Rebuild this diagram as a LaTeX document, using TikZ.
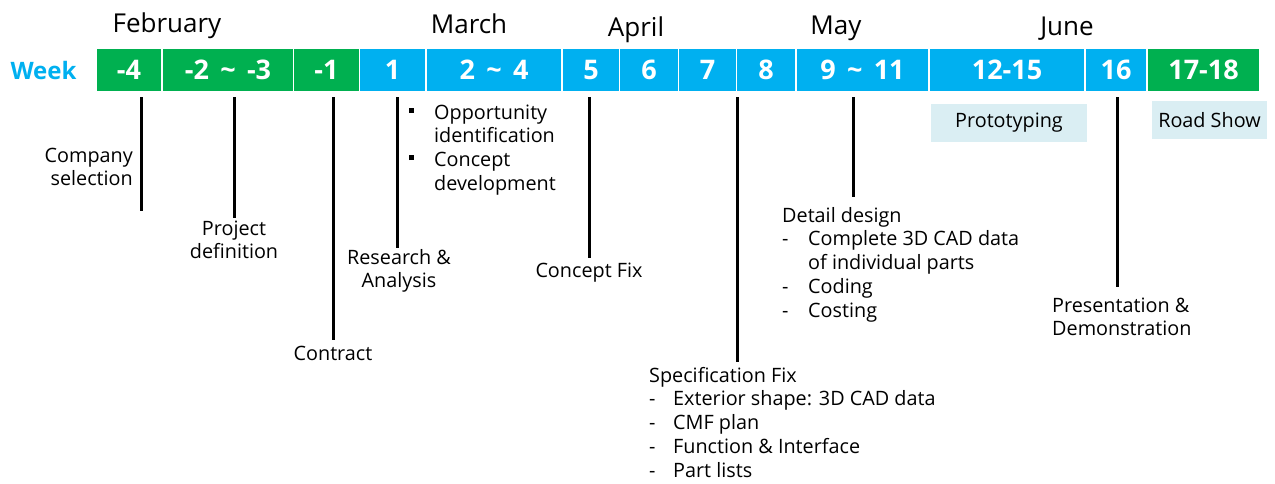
\documentclass[tikz,border=0pt]{standalone}
\usepackage{fontspec}
\setmainfont{Open Sans}
\definecolor{wkgreen}{HTML}{00B050}
\definecolor{wkblue}{HTML}{00B0F0}
\definecolor{boxblue}{HTML}{DAEEF3}
\newcommand{\bodyfont}{\fontsize{19.8}{23.8}\selectfont}
\newcommand{\cellfont}{\fontsize{27}{32}\selectfont\bfseries}
\newcommand{\monthfont}{\fontsize{26}{31}\selectfont}
\newcommand{\sqbullet}{\rule[6.5pt]{5pt}{5pt}}
\newcommand{\tld}{\hspace{0.42em}\textasciitilde\hspace{0.42em}}
\tikzset{
  cell/.style={minimum height=42pt, inner sep=0pt, text=white, font=\cellfont, anchor=center},
  lbl/.style={inner sep=0pt, font=\bodyfont, text=black},
  tick/.style={line width=3pt, black},
  month/.style={inner sep=0pt, font=\monthfont, anchor=base},
  phase/.style={fill=boxblue, inner sep=0pt, font=\bodyfont, text=black, anchor=center}
}
\begin{document}
\begin{tikzpicture}[x=1pt, y=-1pt]
\useasboundingbox (0,0) rectangle (1275,483);
% months
\node[month] (feb) at (167,32) {February};
\node[month] (mar) at (469,33) {March};
\node[month] (apr) at (636,36) {April};
\node[month] (may) at (836,34) {May};
\node[month] (jun) at (1067,35) {June};
% week label
\node[inner sep=0pt, anchor=base, font=\fontsize{24}{29}\selectfont\bfseries, text=wkblue] (week) at (43.5,79) {Week};
% cells
\node[cell, fill=wkgreen, minimum width=64pt]  (w1)  at (129,70)    {-4};
\node[cell, fill=wkgreen, minimum width=130pt] (w2)  at (228,70)    {-2\tld-3};
\node[cell, fill=wkgreen, minimum width=65pt]  (w3)  at (326.5,70)  {-1};
\node[cell, fill=wkblue,  minimum width=65pt]  (w4)  at (392.5,70)  {1};
\node[cell, fill=wkblue,  minimum width=134pt] (w5)  at (494,70)    {2\tld4};
\node[cell, fill=wkblue,  minimum width=56pt]  (w6)  at (591,70)    {5};
\node[cell, fill=wkblue,  minimum width=58pt]  (w7)  at (649,70)    {6};
\node[cell, fill=wkblue,  minimum width=57pt]  (w8)  at (707.5,70)  {7};
\node[cell, fill=wkblue,  minimum width=58pt]  (w9)  at (766,70)    {8};
\node[cell, fill=wkblue,  minimum width=131pt] (w10) at (862.5,70)  {9\tld11};
\node[cell, fill=wkblue,  minimum width=154pt] (w11) at (1007,70)   {12-15};
\node[cell, fill=wkblue,  minimum width=60pt]  (w12) at (1116,70)   {16};
\node[cell, fill=wkgreen, minimum width=111pt] (w13) at (1203.5,70) {17-18};
% phase boxes
\node[phase, minimum width=156pt, minimum height=38pt] (proto) at (1009,123) {Prototyping};
\node[phase, minimum width=115pt, minimum height=38pt] (road) at (1209.5,120) {Road Show};
% labels
\node[lbl, anchor=base east] (l1) at (133,162) {\begin{tabular}[t]{@{}r@{}}Company\\selection\end{tabular}};
\node[lbl, anchor=base] (l2) at (234,235) {\begin{tabular}[t]{@{}c@{}}Project\\definition\end{tabular}};
\node[lbl, anchor=base] (l3) at (333,360) {Contract};
\node[lbl, anchor=base] (l4) at (399,264) {\begin{tabular}[t]{@{}c@{}}Research \&\\Analysis\end{tabular}};
\node[lbl, anchor=base west] (l4b) at (409,119) {\begin{tabular}[t]{@{}p{25pt}@{}l@{}}\sqbullet & Opportunity\\ & identification\\ \sqbullet & Concept\\ & development\end{tabular}};
\node[lbl, anchor=base] (l5) at (589,277) {Concept Fix};
\node[lbl, anchor=base west] (l6) at (649,382) {\begin{tabular}[t]{@{}p{24pt}@{}l@{}}\multicolumn{2}{@{}l@{}}{Specification Fix}\\ - & Exterior shape: 3D CAD data\\ - & CMF plan\\ - & Function \& Interface\\ - & Part lists\end{tabular}};
\node[lbl, anchor=base west] (l7) at (782,222) {\begin{tabular}[t]{@{}p{26pt}@{}l@{}}\multicolumn{2}{@{}l@{}}{Detail design}\\ - & Complete 3D CAD data\\ & of individual parts\\ - & Coding\\ - & Costing\end{tabular}};
\node[lbl, anchor=base west] (l8) at (1052,312) {\begin{tabular}[t]{@{}l@{}}Presentation \&\\Demonstration\end{tabular}};
% tick coordinates
\coordinate (t1) at (141,97);  \coordinate (b1) at (141,211);
\coordinate (t2) at (234,97);  \coordinate (b2) at (234,218);
\coordinate (t3) at (333,97);  \coordinate (b3) at (333,340);
\coordinate (t4) at (397,97);  \coordinate (b4) at (397,248);
\coordinate (t5) at (589,97);  \coordinate (b5) at (589,258);
\coordinate (t6) at (737,97);  \coordinate (b6) at (737,362);
\coordinate (t7) at (853,97);  \coordinate (b7) at (853,197);
\coordinate (t8) at (1117,97); \coordinate (b8) at (1117,287);
\draw[tick] (t1) -- (b1);
\draw[tick] (t2) -- (b2);
\draw[tick] (t3) -- (b3);
\draw[tick] (t4) -- (b4);
\draw[tick] (t5) -- (b5);
\draw[tick] (t6) -- (b6);
\draw[tick] (t7) -- (b7);
\draw[tick] (t8) -- (b8);
\end{tikzpicture}
\end{document}
